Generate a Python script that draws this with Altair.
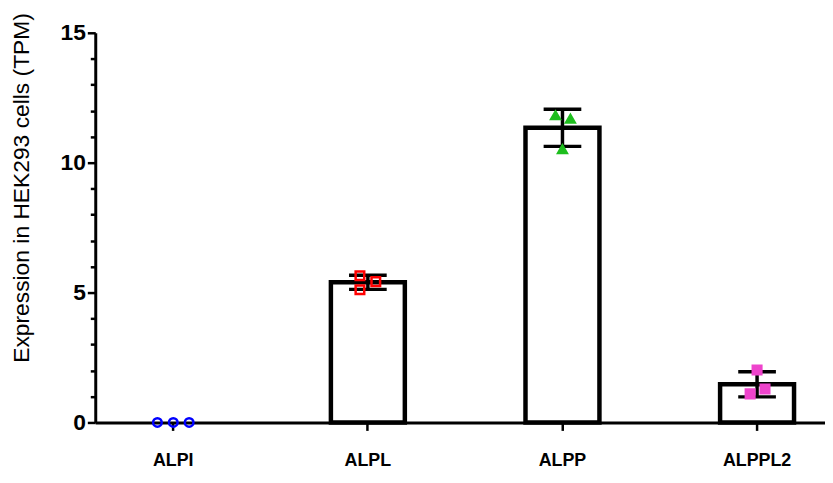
import altair as alt
import pandas as pd

# ---- data ----
genes = ["ALPI", "ALPL", "ALPP", "ALPPL2"]
alpi_vals = [0.0, 0.0, 0.0]
alpl_vals = [5.65, 5.11, 5.42]
alpp_vals = [11.82, 11.69, 10.52]
alppl2_vals = [2.02, 1.29, 1.10]

# ---- styling ----
W, H = 736, 393
P_INNER, P_OUTER, ALIGN = 0.62, 0.185, 0.57
jitter_px = {"ALPI": [-16, 0, 16], "ALPL": [-8, -8, 8], "ALPP": [-7, 8, 0], "ALPPL2": [0, 8, -7]}
colors = ["#0000ff", "#ff0000", "#1ebe1e", "#ee44cc"]
shapes = ["circle", "square", "triangle-up", "square"]
filled = {"ALPI": False, "ALPL": False, "ALPP": True, "ALPPL2": True}

# band geometry (used to align the point layer with the bar bands)
n = len(genes)
step = W / (n - P_INNER + 2 * P_OUTER)
first_center = (W - step * (n - P_INNER)) * ALIGN + step * (1 - P_INNER) / 2
dom_lo = -first_center / step
dom_hi = dom_lo + W / step

rows = []
for gi, (g, vals) in enumerate(zip(genes, [alpi_vals, alpl_vals, alpp_vals, alppl2_vals])):
    for i, v in enumerate(vals):
        rows.append({"gene": g, "value": v, "pos": gi + jitter_px[g][i] / step, "filled": filled[g]})
df = pd.DataFrame(rows)

FONT = "Liberation Sans"

x_scale = alt.Scale(domain=genes, paddingInner=P_INNER, paddingOuter=P_OUTER, align=ALIGN)
y_scale = alt.Scale(domain=[0, 15], nice=False)

x_axis = alt.Axis(
    title=None, labelFont=FONT, labelFontSize=18, labelFontWeight="bold", labelColor="black",
    domainColor="black", domainWidth=3, tickColor="black", tickWidth=2.5, tickSize=8,
    labelPadding=21, labelAngle=0, grid=False,
)
y_axis = alt.Axis(
    title="Expression in HEK293 cells (TPM)", titleFont=FONT, titleFontSize=23,
    titleFontWeight="normal", titleColor="black", titleY=156, titlePadding=27,
    values=list(range(0, 16)),
    labelExpr="datum.value % 5 === 0 ? datum.label : ''",
    labelFont=FONT, labelFontSize=23, labelFontWeight="bold", labelColor="black",
    labelOverlap=False, labelPadding=2, labelFlush=False,
    domainColor="black", domainWidth=3, tickColor="black", tickWidth=2.5,
    tickSize={"condition": {"test": "datum.value % 5 === 0", "value": 8}, "value": 5},
    grid=False,
)

base = alt.Chart(df)
X = alt.X("gene:N", scale=x_scale, axis=x_axis, sort=genes)

bars = base.transform_aggregate(
    mean="mean(value)", groupby=["gene"]
).transform_filter("datum.mean > 0").mark_bar(fill="white", stroke="black", strokeWidth=4.5).encode(
    x=X,
    y=alt.Y("mean:Q", scale=y_scale, axis=y_axis),
)

stats = base.transform_aggregate(
    mean="mean(value)", sd="stdev(value)", groupby=["gene"]
).transform_calculate(
    lo="datum.mean - datum.sd", hi="datum.mean + datum.sd"
).transform_filter("datum.sd > 0")

err_rule = stats.mark_rule(color="black", strokeWidth=3.5).encode(
    x=X, y=alt.Y("lo:Q", scale=y_scale, axis=y_axis), y2="hi:Q"
)
cap_hi = stats.mark_tick(color="black", thickness=3.5, size=38, orient="horizontal", opacity=1).encode(
    x=X, y=alt.Y("hi:Q", scale=y_scale, axis=y_axis)
)
cap_lo = stats.mark_tick(color="black", thickness=3.5, size=38, orient="horizontal", opacity=1).encode(
    x=X, y=alt.Y("lo:Q", scale=y_scale, axis=y_axis)
)

bar_layer = alt.layer(bars, err_rule, cap_hi, cap_lo)

color_scale = alt.Scale(domain=genes, range=colors)
points = base.mark_point(size=75, strokeWidth=2.5, opacity=1).encode(
    x=alt.X("pos:Q", scale=alt.Scale(domain=[dom_lo, dom_hi], nice=False, zero=False), axis=None),
    y=alt.Y("value:Q", scale=y_scale, axis=y_axis),
    color=alt.Color("gene:N", scale=color_scale, legend=None),
    shape=alt.Shape("gene:N", scale=alt.Scale(domain=genes, range=shapes), legend=None),
    fill=alt.condition("datum.filled", alt.Color("gene:N", scale=color_scale, legend=None), alt.value("transparent")),
)

chart = alt.layer(bar_layer, points).resolve_scale(x="independent").properties(
    width=W, height=H, background="white",
    padding={"left": 2, "top": 2, "right": 0, "bottom": 5},
).configure_view(stroke=None).configure_axis(grid=False)

chart.save("out.html", embed_options={"renderer": "svg", "actions": False})
